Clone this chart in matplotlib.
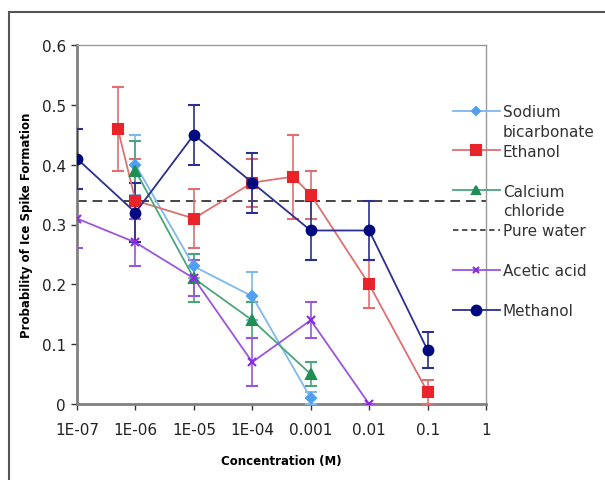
import matplotlib
matplotlib.use("Agg")
import matplotlib.pyplot as plt
from matplotlib.lines import Line2D
import numpy as np

# ---- data ----
sodium_x = [1e-6, 1e-5, 1e-4, 1e-3]
sodium_y = [0.40, 0.23, 0.18, 0.01]
sodium_e = [0.05, 0.02, 0.04, 0.01]

ethanol_x = [5e-7, 1e-6, 1e-5, 1e-4, 5e-4, 1e-3, 1e-2, 1e-1]
ethanol_y = [0.46, 0.34, 0.31, 0.37, 0.38, 0.35, 0.20, 0.02]
ethanol_e = [0.07, 0.07, 0.05, 0.04, 0.07, 0.04, 0.04, 0.02]

calcium_x = [1e-6, 1e-5, 1e-4, 1e-3]
calcium_y = [0.39, 0.21, 0.14, 0.05]
calcium_e = [0.05, 0.04, 0.03, 0.02]

pure_water = 0.34

acetic_x = [1e-7, 1e-6, 1e-5, 1e-4, 1e-3, 1e-2]
acetic_y = [0.31, 0.27, 0.21, 0.07, 0.14, 0.00]
acetic_e = [0.05, 0.04, 0.03, 0.04, 0.03, 0.00]

methanol_x = [1e-7, 1e-6, 1e-5, 1e-4, 1e-3, 1e-2, 1e-1]
methanol_y = [0.41, 0.32, 0.45, 0.37, 0.29, 0.29, 0.09]
methanol_e = [0.05, 0.05, 0.05, 0.05, 0.05, 0.05, 0.03]

xticks = [1e-7, 1e-6, 1e-5, 1e-4, 1e-3, 1e-2, 1e-1, 1]
xticklabels = ["1E-07", "1E-06", "1E-05", "1E-04", "0.001", "0.01", "0.1", "1"]
yticks = [0, 0.1, 0.2, 0.3, 0.4, 0.5, 0.6]
yticklabels = ["0", "0.1", "0.2", "0.3", "0.4", "0.5", "0.6"]

plt.rcParams['font.family'] = ['DejaVu Sans']

fig = plt.figure(figsize=(6.05, 4.81), dpi=100)
ax = fig.add_axes([77/605, 1-405/481, (486-77)/605, (405-46)/481])

# outer frame
fig.add_artist(Line2D([9/605, 9/605], [0, 1-13/481], transform=fig.transFigure, color='#555555', lw=1.5))
fig.add_artist(Line2D([9/605, 1], [1-13/481, 1-13/481], transform=fig.transFigure, color='#555555', lw=1.5))

ax.axhline(pure_water, color='#444444', lw=1.4, ls=(0, (5, 3)), zorder=1)

series = [
    (sodium_x, sodium_y, sodium_e, '#7fb8ee', '#4fa0f0', 'D', 5),
    (ethanol_x, ethanol_y, ethanol_e, '#e07070', '#e8232a', 's', 7),
    (calcium_x, calcium_y, calcium_e, '#4aa67a', '#1e8f50', '^', 7),
    (acetic_x, acetic_y, acetic_e, '#9a55e0', '#8a2be2', 'x', 6),
    (methanol_x, methanol_y, methanol_e, '#2a2f90', '#000a80', 'o', 7),
]
for xs, ys, es, lc, mc, mk, ms in series:
    ax.errorbar(xs, ys, yerr=es, color=lc, lw=1.3, marker=mk, ms=ms,
                mfc=mc, mec=mc, mew=1.5, capsize=4, capthick=1.2, elinewidth=1.2, zorder=3)

ax.set_xscale('log')
ax.set_xlim(1e-7, 1)
ax.set_ylim(0, 0.6)
ax.set_xticks(xticks)
ax.set_xticklabels(xticklabels)
ax.minorticks_off()
ax.set_yticks(yticks)
ax.set_yticklabels(yticklabels)
ax.tick_params(axis='both', labelsize=11, colors='#333333', length=4, width=1, direction='out', pad=4)
for lbl in ax.get_xticklabels() + ax.get_yticklabels():
    lbl.set_color('#222222')
ax.tick_params(axis='x', pad=9)
for s in ['left', 'bottom']:
    ax.spines[s].set_color('#808080')
    ax.spines[s].set_linewidth(2)
for s in ['right', 'top']:
    ax.spines[s].set_color('#999999')
    ax.spines[s].set_linewidth(1)

ax.set_ylabel('Probability of Ice Spike Formation', fontsize=8.5, fontweight='bold', labelpad=6)
ax.set_xlabel('Concentration (M)', fontsize=8.5, fontweight='bold', labelpad=12)

# legend
blank = Line2D([], [], color='none')
def h(lc, mc, mk, ms, ls='-'):
    return Line2D([], [], color=lc, lw=1.3, ls=ls, marker=mk, ms=ms, mfc=mc, mec=mc, mew=1.5)
handles = [
    h('#7fb8ee', '#4fa0f0', 'D', 4), blank,
    h('#e07070', '#e8232a', 's', 7), blank,
    h('#4aa67a', '#1e8f50', '^', 6), blank,
    h('#444444', '#444444', None, 0, ls=(0, (3, 2))), blank,
    h('#9a55e0', '#8a2be2', 'x', 5), blank,
    h('#2a2f90', '#000a80', 'o', 7),
]
labels = ['Sodium', 'bicarbonate', 'Ethanol', ' ', 'Calcium', 'chloride',
          'Pure water', ' ', 'Acetic acid', ' ', 'Methanol']
leg = ax.legend(handles, labels, loc='upper left', bbox_to_anchor=(453/605, 1-105/481),
                bbox_transform=fig.transFigure, frameon=False, fontsize=11,
                handlelength=3.05, handletextpad=0.2, labelspacing=0.32,
                borderpad=0, borderaxespad=0)
for t in leg.get_texts():
    t.set_color('#333333')

fig.savefig('out.png', dpi=100)
